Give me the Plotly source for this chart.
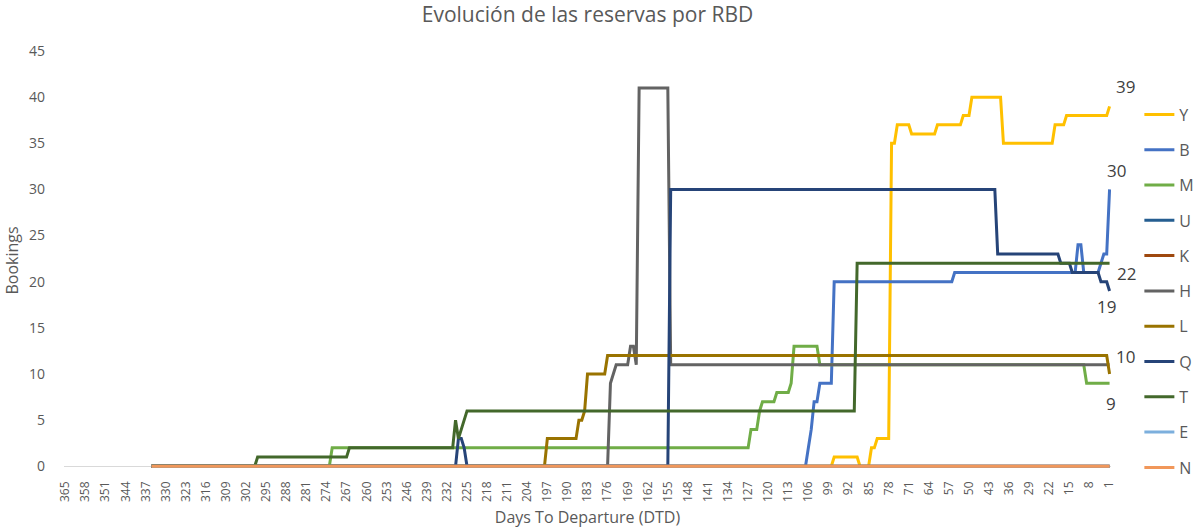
import plotly.graph_objects as go

# ---------------- data ----------------
FIRST_DAY = 335          # first day with data (days to departure)
DTD_TICKS = [365, 358, 351, 344, 337, 330, 323, 316, 309, 302, 295, 288, 281, 274,
             267, 260, 253, 246, 239, 232, 225, 218, 211, 204, 197, 190, 183, 176,
             169, 162, 155, 148, 141, 134, 127, 120, 113, 106, 99, 92, 85, 78, 71,
             64, 57, 50, 43, 36, 29, 22, 15, 8, 1]
Y_TICKS = [0, 5, 10, 15, 20, 25, 30, 35, 40, 45]

# bookings per RBD, as (day, value) change points; value holds until next change
Y_pts = [(335, 0), (97, 1), (88, 0), (84, 2), (82, 3), (77, 35), (75, 37), (70, 36),
         (61, 37), (52, 38), (49, 40), (38, 35), (20, 37), (16, 38), (1, 39)]
B_pts = [(335, 0), (106, 2), (105, 4), (104, 7), (102, 9), (97, 20), (55, 21),
         (12, 24), (10, 21), (4, 22), (3, 23), (1, 30)]
M_pts = [(335, 0), (272, 2), (126, 4), (123, 6), (122, 7), (117, 8), (112, 9),
         (111, 13), (102, 11), (9, 9)]
U_pts = [(335, 0)]
K_pts = [(335, 0)]
H_pts = [(335, 0), (175, 9), (174, 10), (173, 11), (168, 13), (166, 11), (165, 41),
         (154, 11)]
L_pts = [(335, 0), (197, 3), (186, 5), (184, 6), (183, 10), (176, 12), (1, 10)]
Q_pts = [(335, 0), (228, 3), (226, 2), (225, 0), (154, 30), (40, 23), (18, 22),
         (14, 21), (4, 20), (1, 19)]
T_pts = [(335, 0), (298, 1), (266, 2), (229, 5), (228, 3), (227, 4), (226, 5),
         (225, 6), (89, 22)]
E_pts = [(335, 0)]
N_pts = [(335, 0)]

SERIES = ["Y", "B", "M", "U", "K", "H", "L", "Q", "T", "E", "N"]
COLORS = ["#FFC000", "#4472C4", "#70AD47", "#255E91", "#9E480E", "#636363",
          "#997300", "#264478", "#43682B", "#7CAFDD", "#F1975A"]
POINTS = [Y_pts, B_pts, M_pts, U_pts, K_pts, H_pts, L_pts, Q_pts, T_pts, E_pts, N_pts]

# end-of-line data labels: series name -> (xshift, yshift) in px
END_LABELS = {"Y": (16, 20), "B": (7, 19), "T": (17, -10), "Q": (-3, -16),
              "L": (16, 18), "M": (1, -20)}


def expand(points):
    days = list(range(FIRST_DAY, 0, -1))
    lookup = dict(points)
    vals, cur = [], None
    for d in days:
        if d in lookup:
            cur = lookup[d]
        vals.append(cur)
    return days, vals


TXT = "#595959"
FONT = "Open Sans"

fig = go.Figure()
annotations = []
for name, color, pts in zip(SERIES, COLORS, POINTS):
    days, vals = expand(pts)
    fig.add_trace(go.Scatter(x=days, y=vals, mode="lines", name=name,
                             legendgroup=name,
                             line=dict(color=color, width=3)))
    if name in END_LABELS:
        xs, ys = END_LABELS[name]
        annotations.append(dict(x=days[-1], y=vals[-1], xref="x", yref="y",
                                text=str(vals[-1]), showarrow=False,
                                xshift=xs, yshift=ys,
                                font=dict(family=FONT, size=17, color="#404040")))

fig.update_layout(
    width=1199, height=531,
    margin=dict(l=63.6, r=87.6, t=51, b=61.3, autoexpand=False),
    paper_bgcolor="white", plot_bgcolor="white",
    font=dict(family=FONT, color=TXT),
    title=dict(text="Evolución de las reservas por RBD", x=0.5, xref="paper",
               xanchor="center", y=0.972, yanchor="middle",
               font=dict(family=FONT, size=21, color=TXT)),
    xaxis=dict(range=[365.5, 0.5], tickmode="array", tickvals=DTD_TICKS,
               ticktext=[str(t) for t in DTD_TICKS], tickangle=-90,
               showgrid=False, zeroline=False, showline=False, ticks="",
               ticklabelstandoff=8,
               tickfont=dict(family=FONT, size=12, color=TXT),
               title=dict(text="Days To Departure (DTD)", standoff=10,
                          font=dict(family=FONT, size=16, color=TXT))),
    yaxis=dict(range=[-0.4, 45], tickmode="array", tickvals=Y_TICKS,
               showgrid=False, zeroline=True, zerolinecolor="#D9D9D9",
               zerolinewidth=1, showline=False, ticks="", ticklabelstandoff=18,
               tickfont=dict(family=FONT, size=14, color=TXT),
               title=dict(text="Bookings", standoff=6,
                          font=dict(family=FONT, size=16, color=TXT))),
    legend=dict(x=1.0271, xanchor="left", y=0.889, yanchor="top",
                traceorder="grouped", tracegroupgap=11.5,
                font=dict(family=FONT, size=16, color=TXT),
                bgcolor="rgba(0,0,0,0)"),
    annotations=annotations,
)

fig.write_html("out.html", config={"displayModeBar": False},
               post_script="document.body.style.margin='0';")
